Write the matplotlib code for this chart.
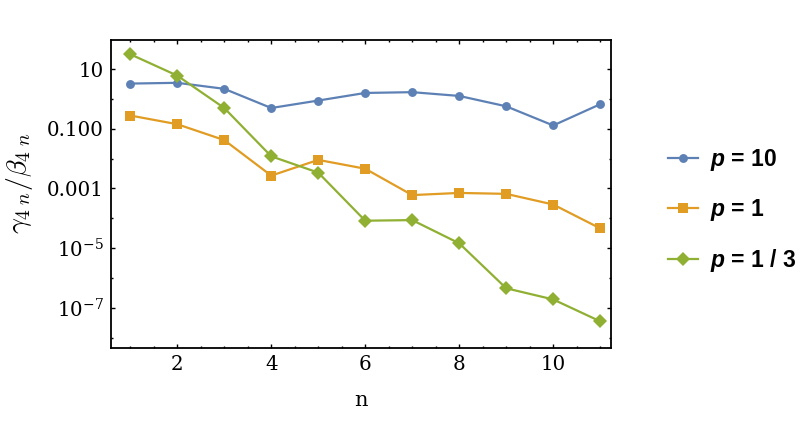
import matplotlib
matplotlib.use("Agg")
import matplotlib.pyplot as plt
from matplotlib.ticker import FixedLocator, FixedFormatter, MultipleLocator, NullFormatter

# data
n = [1, 2, 3, 4, 5, 6, 7, 8, 9, 10, 11]
p10 = [3.3, 3.5, 2.2, 0.5, 0.89, 1.6, 1.7, 1.27, 0.57, 0.13, 0.67]
p1 = [0.28, 0.143, 0.042, 0.0027, 0.0091, 0.0046, 6.0e-4, 7.1e-4, 6.6e-4, 2.9e-4, 4.6e-5]
p13 = [31.8, 6.1, 0.5, 0.012, 0.0034, 8.3e-5, 8.7e-5, 1.45e-5, 4.5e-7, 1.9e-7, 3.5e-8]

series_labels = ["$p$ = 10", "$p$ = 1", "$p$ = 1 / 3"]
ytick_vals = [10, 0.1, 1e-3, 1e-5, 1e-7]
ytick_labels = ["10", "0.100", "0.001", "$10^{-5}$", "$10^{-7}$"]
yminor_vals = [1, 1e-2, 1e-4, 1e-6, 1e-8]

plt.rcParams['mathtext.fontset'] = 'custom'
plt.rcParams['mathtext.it'] = 'Liberation Sans:italic:bold'
plt.rcParams['mathtext.rm'] = 'DejaVu Serif'

fig = plt.figure(figsize=(8.03, 4.21), dpi=100)
ax = fig.add_axes([111 / 803, 1 - 348 / 421, 500 / 803, 308 / 421])

ax.plot(n, p10, color='#5E81B5', lw=1.6, marker='o', ms=6.4, mew=0, label=series_labels[0])
ax.plot(n, p1, color='#E19C24', lw=1.6, marker='s', ms=6.8, mew=0, label=series_labels[1])
ax.plot(n, p13, color='#8FB032', lw=1.6, marker='D', ms=7.2, mew=0, label=series_labels[2])

ax.set_yscale('log')
ax.set_xlim(0.59, 11.23)
ax.set_ylim(10 ** -8.35, 10 ** 1.98)

ax.xaxis.set_major_locator(FixedLocator([2, 4, 6, 8, 10]))
ax.xaxis.set_minor_locator(MultipleLocator(0.5))
ax.yaxis.set_major_locator(FixedLocator(ytick_vals))
ax.yaxis.set_major_formatter(FixedFormatter(ytick_labels))
ax.yaxis.set_minor_locator(FixedLocator(yminor_vals))
ax.yaxis.set_minor_formatter(NullFormatter())

ax.tick_params(which='both', direction='in', top=True, right=True, width=1.0)
ax.tick_params(which='major', length=3.0, pad=5)
ax.tick_params(which='minor', length=1.7)
for lab in ax.get_xticklabels() + ax.get_yticklabels():
    lab.set_fontfamily('DejaVu Serif')
    lab.set_fontsize(14.3)
    lab.set_math_fontfamily('dejavuserif')
for s in ax.spines.values():
    s.set_linewidth(1.3)

ax.set_xlabel('n', fontfamily='DejaVu Serif', fontsize=15, labelpad=12)
ax.set_ylabel(r'$\gamma_{4\ n}/\beta_{4\ n}$', fontsize=20, math_fontfamily='cm')
ax.yaxis.set_label_coords(-0.152, 0.536)

leg = fig.legend(loc='center left', bbox_to_anchor=(668 / 803, 0.5), frameon=False,
                 borderpad=0, borderaxespad=0, handlelength=1.3, handletextpad=0.55,
                 labelspacing=1.05, prop={'family': 'Liberation Sans', 'weight': 'bold', 'size': 16.5})
for t in leg.get_texts():
    t.set_math_fontfamily('custom')

fig.savefig('out.png', dpi=100)
